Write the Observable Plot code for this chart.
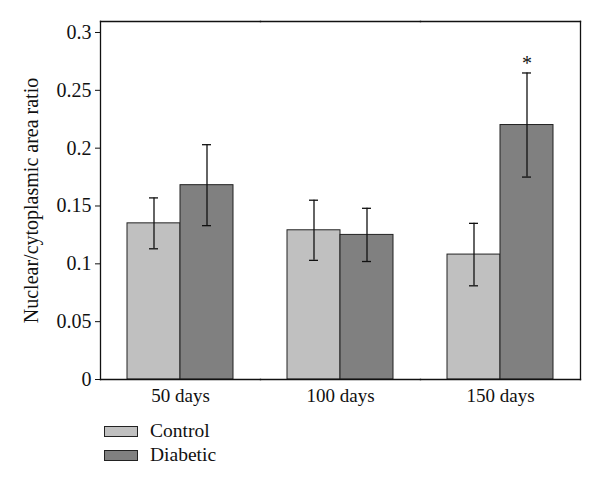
<!DOCTYPE html>
<html>
<head>
<meta charset="utf-8">
<script src="https://cdn.jsdelivr.net/npm/d3@7"></script>
<script src="https://cdn.jsdelivr.net/npm/@observablehq/plot@0.6"></script>
<style>
  body { margin: 0; background: white; font-family: "Liberation Serif", "DejaVu Serif", serif; }
  #legend { margin-top: 7px; margin-left: 104px; font-size: 19.5px; color: #111; }
  .row { height: 24px; display: flex; align-items: center; }
  .sw { width: 32px; height: 9px; border: 1.3px solid #222; margin-right: 12px; }
</style>
</head>
<body>
<div id="chart"></div>
<script>
const days = ["50 days", "100 days", "150 days"];
const groups = ["Control", "Diabetic"];
const controlMean = [0.135, 0.129, 0.108];
const controlErr = [0.022, 0.026, 0.027];
const diabeticMean = [0.168, 0.125, 0.220];
const diabeticErr = [0.035, 0.023, 0.045];
const yTicks = [0, 0.05, 0.1, 0.15, 0.2, 0.25, 0.3];
const yTickLabels = ["0", "0.05", "0.1", "0.15", "0.2", "0.25", "0.3"];
const significant = [{day: "150 days", group: "Diabetic", mark: "*"}];
const colors = ["#c0c0c0", "#808080"];

const rows = [];
days.forEach((d, i) => {
  rows.push({day: d, group: "Control", mean: controlMean[i], err: controlErr[i]});
  rows.push({day: d, group: "Diabetic", mean: diabeticMean[i], err: diabeticErr[i]});
});
const stars = significant.map(s => {
  const r = rows.find(r => r.day === s.day && r.group === s.group);
  return {...s, top: r.mean + r.err};
});

const chart = Plot.plot({
  width: 600,
  height: 412,
  marginLeft: 100,
  marginRight: 20,
  marginTop: 21,
  marginBottom: 33,
  style: {fontFamily: "Liberation Serif, DejaVu Serif, serif", fontSize: "19px", background: "white", color: "#111"},
  fx: {domain: days, padding: 0, label: null, axis: null},
  x: {domain: groups, paddingInner: 0, paddingOuter: 0.49, axis: null},
  y: {domain: [0, 0.3095]},
  color: {domain: groups, range: colors},
  marks: [
    Plot.barY(rows, {fx: "day", x: "group", y: "mean", fill: "group", stroke: "#222", strokeWidth: 1}),
    Plot.ruleX(rows, {fx: "day", x: "group", y1: d => d.mean - d.err, y2: d => d.mean + d.err, stroke: "#111", strokeWidth: 1.3}),
    Plot.tickY(rows, {fx: "day", x: "group", y: d => d.mean + d.err, stroke: "#111", strokeWidth: 1.3, insetLeft: 22, insetRight: 22}),
    Plot.tickY(rows, {fx: "day", x: "group", y: d => d.mean - d.err, stroke: "#111", strokeWidth: 1.3, insetLeft: 22, insetRight: 22}),
    Plot.text(stars, {fx: "day", x: "group", y: "top", text: "mark", dy: -9, fontSize: 20, fill: "#111"}),
    Plot.axisFx({anchor: "bottom", domain: days, tickSize: 0, tickPadding: 9, label: null}),
    Plot.axisY({ticks: yTicks, tickFormat: d => yTickLabels[yTicks.indexOf(d)], tickSize: 5, tickPadding: 4, fontSize: 20,
      label: "Nuclear/cytoplasmic area ratio", labelAnchor: "center", labelArrow: "none", labelOffset: 77}),
    Plot.frame({anchor: "top", stroke: "#111", strokeWidth: 1.3}),
    Plot.frame({anchor: "bottom", stroke: "#111", strokeWidth: 1.3}),
    Plot.frame({anchor: "left", facetAnchor: "left", stroke: "#111", strokeWidth: 1.3}),
    Plot.frame({anchor: "right", facetAnchor: "right", stroke: "#111", strokeWidth: 1.3})
  ]
});
document.getElementById("chart").appendChild(chart);

const legend = document.createElement("div");
legend.id = "legend";
groups.forEach((g, i) => {
  const row = document.createElement("div");
  row.className = "row";
  const sw = document.createElement("div");
  sw.className = "sw";
  sw.style.background = colors[i];
  const lab = document.createElement("span");
  lab.textContent = g;
  row.appendChild(sw);
  row.appendChild(lab);
  legend.appendChild(row);
});
document.body.appendChild(legend);
</script>
</body>
</html>
